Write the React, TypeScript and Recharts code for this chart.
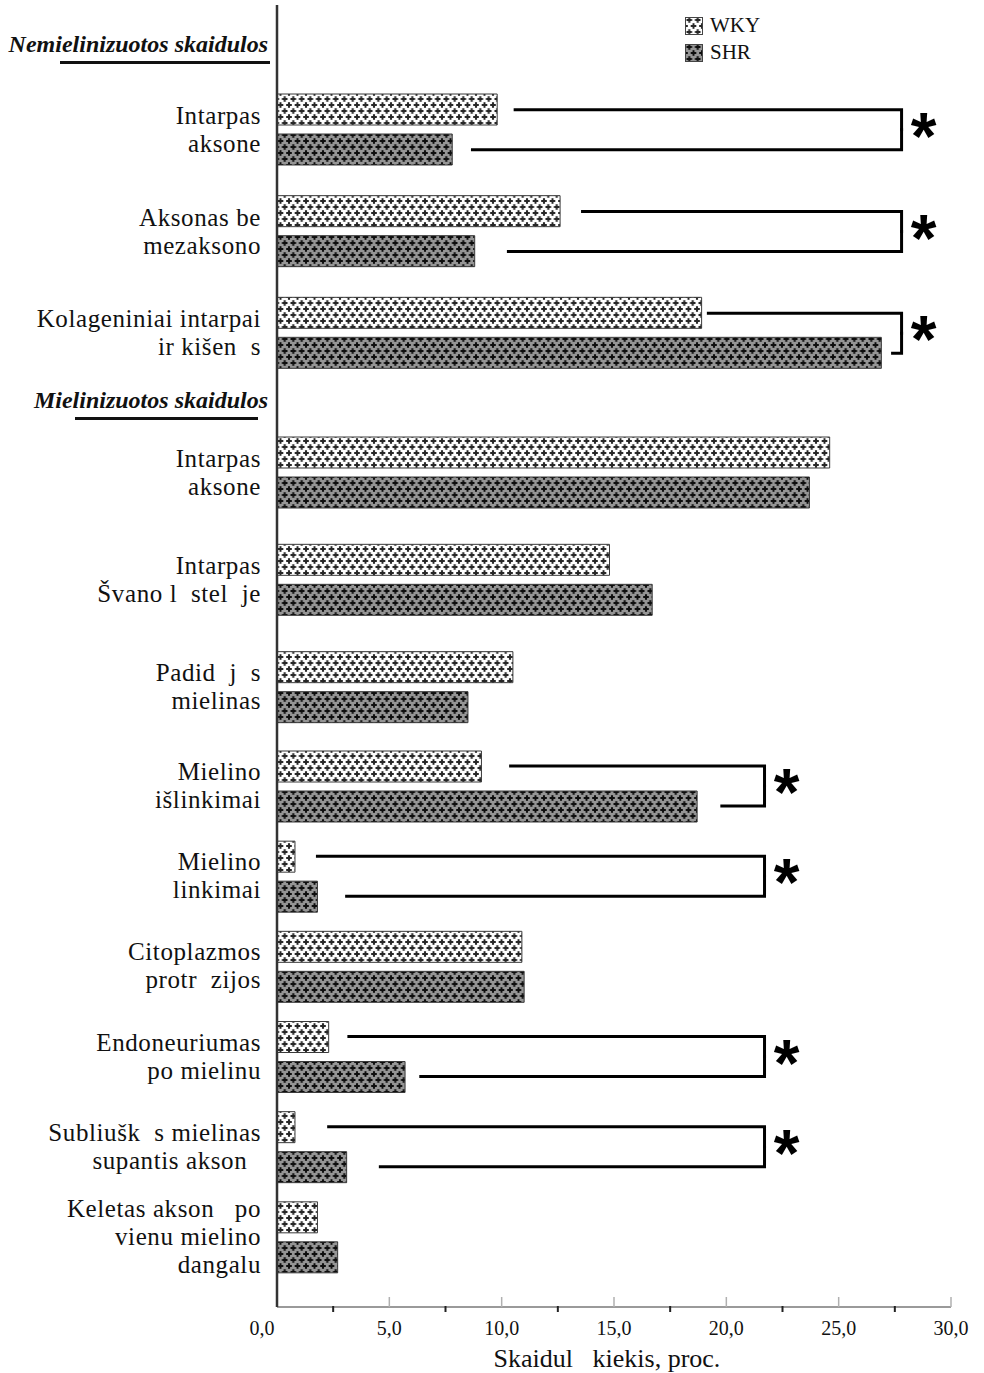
import React from 'react';
import { BarChart, Bar, XAxis, YAxis, ReferenceLine, Legend } from 'recharts';

const SERIF = "'Liberation Serif', 'Times New Roman', serif";

// Nemielinizuotos skaidulos (unmyelinated fibres)
const unmyelinatedLabels = ['Intarpas\naksone', 'Aksonas be\nmezaksono', 'Kolageniniai intarpai\nir kišen  s'];
const unmyelinatedWKY = [9.8, 12.6, 18.9];
const unmyelinatedSHR = [7.8, 8.8, 26.9];

// Mielinizuotos skaidulos (myelinated fibres)
const myelinatedLabels = [
  'Intarpas\naksone',
  'Intarpas\nŠvano l  stel  je',
  'Padid  j  s\nmielinas',
  'Mielino\nišlinkimai',
  'Mielino\nlinkimai',
  'Citoplazmos\nprotr  zijos',
  'Endoneuriumas\npo mielinu',
  'Subliušk  s mielinas\nsupantis akson  ',
  'Keletas akson   po\nvienu mielino\ndangalu',
];
const myelinatedWKY = [24.6, 14.8, 10.5, 9.1, 0.8, 10.9, 2.3, 0.8, 1.8];
const myelinatedSHR = [23.7, 16.7, 8.5, 18.7, 1.8, 11.0, 5.7, 3.1, 2.7];

// Significance brackets: row index, where each arm starts, where the bracket closes
const unmyelinatedSigRows = [0, 1, 2];
const unmyelinatedSigWkyFrom = [10.6, 13.6, 19.2];
const unmyelinatedSigShrFrom = [8.7, 10.3, 27.4];
const unmyelinatedSigAt = 27.8;

const myelinatedSigRows = [3, 4, 6, 7];
const myelinatedSigWkyFrom = [10.4, 1.8, 3.2, 2.3];
const myelinatedSigShrFrom = [19.8, 3.1, 6.4, 4.6];
const myelinatedSigAt = 21.7;

const xTicks = [0, 2.5, 5, 7.5, 10, 12.5, 15, 17.5, 20, 22.5, 25, 27.5, 30];
const seriesNames = ['WKY', 'SHR'];

type Row = { label: string; wky: number; shr: number };
type Sig = { label: string; wkyFrom: number; shrFrom: number; at: number };

const buildRows = (labels: string[], wky: number[], shr: number[]): Row[] =>
  labels.map((label, i) => ({ label, wky: wky[i], shr: shr[i] }));

const buildSigs = (labels: string[], rows: number[], wkyFrom: number[], shrFrom: number[], at: number): Sig[] =>
  rows.map((r, i) => ({ label: labels[r], wkyFrom: wkyFrom[i], shrFrom: shrFrom[i], at }));

const unmyelinatedRows = buildRows(unmyelinatedLabels, unmyelinatedWKY, unmyelinatedSHR);
const myelinatedRows = buildRows(myelinatedLabels, myelinatedWKY, myelinatedSHR);
const unmyelinatedSigs = buildSigs(unmyelinatedLabels, unmyelinatedSigRows, unmyelinatedSigWkyFrom, unmyelinatedSigShrFrom, unmyelinatedSigAt);
const myelinatedSigs = buildSigs(myelinatedLabels, myelinatedSigRows, myelinatedSigWkyFrom, myelinatedSigShrFrom, myelinatedSigAt);

const BAR_SIZE = 31;
const BAR_GAP = 9;
const ARM_OFFSET = (BAR_SIZE + BAR_GAP) / 2;
const LINE_H = 28;
const CHART_W = 984;
const PAGE_H = 1373;
const AXIS_W = 277;
const RIGHT_M = 33;

const Cross = ({ cx, cy, color }: { cx: number; cy: number; color: string }) => (
  <g fill={color}>
    <rect x={cx - 2.8} y={cy - 1} width={5.6} height={2} />
    <rect x={cx - 1} y={cy - 2.8} width={2} height={5.6} />
  </g>
);

const patternDefs = (prefix: string) => (
  <defs>
    <pattern id={`${prefix}wky`} width={8.5} height={12} patternUnits="userSpaceOnUse">
      <rect width={8.5} height={12} fill="#ffffff" />
      <Cross cx={4.25} cy={3} color="#262626" />
      <Cross cx={0} cy={9} color="#262626" />
      <Cross cx={8.5} cy={9} color="#262626" />
    </pattern>
    <pattern id={`${prefix}shr`} width={8.5} height={12} patternUnits="userSpaceOnUse">
      <rect width={8.5} height={12} fill="#959595" />
      <Cross cx={4.25} cy={3} color="#0d0d0d" />
      <Cross cx={0} cy={9} color="#0d0d0d" />
      <Cross cx={8.5} cy={9} color="#0d0d0d" />
    </pattern>
  </defs>
);

const CategoryTick = ({ x, y, payload }: any) => {
  const lines = String(payload.value).split('\n');
  const first = y - ((lines.length - 1) * LINE_H) / 2 + 8;
  return (
    <text
      x={x}
      y={first}
      textAnchor="end"
      fontFamily={SERIF}
      fontSize={25}
      letterSpacing={0.6}
      fill="#111"
      style={{ whiteSpace: 'pre' }}
    >
      {lines.map((line, i) => (
        <tspan key={i} x={x} y={first + i * LINE_H}>
          {line}
        </tspan>
      ))}
    </text>
  );
};

const ValueTick = ({ x, y, payload }: any) => {
  const v = Number(payload.value);
  const major = v % 5 === 0;
  return (
    <g>
      {major && v > 0 && <line x1={x} x2={x} y1={y - 10} y2={y} stroke="#b0b0b0" strokeWidth={1.5} />}
      {!major && <line x1={x} x2={x} y1={y - 1} y2={y + 5} stroke="#222" strokeWidth={2} />}
      {major && (
        <text x={v === 0 ? x - 15 : x} y={y + 28} textAnchor="middle" fontFamily={SERIF} fontSize={20} fill="#111">
          {v.toFixed(1).replace('.', ',')}
        </text>
      )}
    </g>
  );
};

const sectionHeading = (text: string, baseline: number, ruleFrom: number, ruleTo: number) => (props: any) => {
  const { viewBox } = props;
  const right = viewBox.x + viewBox.width - 9;
  return (
    <g>
      <text
        x={right}
        y={viewBox.y + baseline}
        textAnchor="end"
        fontFamily={SERIF}
        fontSize={24}
        fontWeight="bold"
        fontStyle="italic"
        fill="#111"
      >
        {text}
      </text>
      <rect x={ruleFrom} y={viewBox.y + baseline + 9} width={ruleTo - ruleFrom} height={3} fill="#111" />
    </g>
  );
};

const AxisTitle = (props: any) => {
  const { viewBox } = props;
  return (
    <text
      x={viewBox.x + viewBox.width / 2 - 7}
      y={viewBox.y + 60}
      textAnchor="middle"
      fontFamily={SERIF}
      fontSize={26}
      fill="#111"
      style={{ whiteSpace: 'pre' }}
    >
      Skaidul   kiekis, proc.
    </text>
  );
};

// One arm of a significance bracket; dir -1 = WKY bar (upper), +1 = SHR bar (lower)
const bracketArm = (dir: number, star: boolean) => (props: any) => {
  const { x1, y1, x2 } = props;
  const yArm = y1 + dir * ARM_OFFSET;
  return (
    <g>
      <path
        d={`M${x1},${yArm} H${x2} V${y1}`}
        fill="none"
        stroke="#000"
        strokeWidth={3}
        strokeLinecap="square"
        strokeLinejoin="miter"
      />
      {star && (
        <text
          x={x2 + 22}
          y={y1 + 29}
          textAnchor="middle"
          fontFamily="'Liberation Sans', Arial, sans-serif"
          fontWeight="bold"
          fontSize={66}
          fill="#000"
        >
          *
        </text>
      )}
    </g>
  );
};

const renderBrackets = (sigs: Sig[]) =>
  sigs.flatMap((s) => [
    <ReferenceLine
      key={`w-${s.label}`}
      segment={[
        { x: s.wkyFrom, y: s.label },
        { x: s.at, y: s.label },
      ]}
      ifOverflow="visible"
      shape={bracketArm(-1, true)}
    />,
    <ReferenceLine
      key={`s-${s.label}`}
      segment={[
        { x: s.shrFrom, y: s.label },
        { x: s.at, y: s.label },
      ]}
      ifOverflow="visible"
      shape={bracketArm(1, false)}
    />,
  ]);

const KeyContent = () => (
  <div style={{ fontFamily: SERIF, fontSize: 21, color: '#111' }}>
    {seriesNames.map((name, i) => (
      <div key={name} style={{ display: 'flex', alignItems: 'center', height: 27 }}>
        <svg width={18} height={18} style={{ marginRight: 7 }}>
          {patternDefs(`key${i}`)}
          <rect
            x={0.5}
            y={0.5}
            width={17}
            height={17}
            fill={`url(#key${i}${i === 0 ? 'wky' : 'shr'})`}
            stroke="#444"
            strokeWidth={1}
          />
        </svg>
        <span>{name}</span>
      </div>
    ))}
  </div>
);

const axisLine = { stroke: '#333', strokeWidth: 2.5 };

type PanelProps = {
  id: string;
  rows: Row[];
  top: number;
  height: number;
  padTop: number;
  padBottom: number;
  marginTop?: number;
  heading?: { text: string; baseline: number; from: number; to: number };
  sigs?: Sig[];
  withKey?: boolean;
  withValueAxis?: boolean;
};

// One horizontal bar panel; panels stack and share the same value scale
const Panel = ({ id, rows, top, height, padTop, padBottom, marginTop = 0, heading, sigs = [], withKey, withValueAxis }: PanelProps) => (
  <div style={{ position: 'absolute', left: 0, top }}>
    <BarChart
      width={CHART_W}
      height={height}
      data={rows}
      layout="vertical"
      barGap={BAR_GAP}
      margin={{ top: marginTop, right: RIGHT_M, left: 0, bottom: 0 }}
    >
      {patternDefs(id)}
      {withValueAxis ? (
        <XAxis
          type="number"
          domain={[0, 30]}
          ticks={xTicks}
          interval={0}
          height={66}
          axisLine={{ stroke: '#9a9a9a', strokeWidth: 2 }}
          tickLine={false}
          tickSize={0}
          tickMargin={0}
          tick={<ValueTick />}
          label={{ content: AxisTitle }}
        />
      ) : (
        <XAxis type="number" domain={[0, 30]} hide />
      )}
      <YAxis
        type="category"
        dataKey="label"
        width={AXIS_W}
        axisLine={axisLine}
        tickLine={false}
        tickSize={0}
        tickMargin={16}
        tick={<CategoryTick />}
        interval={0}
        padding={{ top: padTop, bottom: padBottom }}
        label={heading ? { content: sectionHeading(heading.text, heading.baseline, heading.from, heading.to) } : undefined}
      />
      {withKey && (
        <Legend
          layout="vertical"
          align="center"
          verticalAlign="middle"
          wrapperStyle={{ top: 12, left: 685, width: 100, height: 60 }}
          content={<KeyContent />}
        />
      )}
      <Bar dataKey="wky" name="WKY" fill={`url(#${id}wky)`} stroke="#3a3a3a" strokeWidth={1} barSize={BAR_SIZE} isAnimationActive={false} />
      <Bar dataKey="shr" name="SHR" fill={`url(#${id}shr)`} stroke="#3a3a3a" strokeWidth={1} barSize={BAR_SIZE} isAnimationActive={false} />
      {renderBrackets(sigs)}
    </BarChart>
  </div>
);

export default function App() {
  const myelinatedHead = myelinatedRows.slice(0, 3);
  const myelinatedTail = myelinatedRows.slice(3);
  return (
    <div style={{ position: 'absolute', left: 0, top: 0, width: CHART_W, height: PAGE_H, background: '#fff' }}>
      <Panel
        id="p1"
        rows={unmyelinatedRows}
        top={0}
        height={384}
        marginTop={5}
        padTop={74}
        padBottom={0}
        heading={{ text: 'Nemielinizuotos skaidulos', baseline: 47, from: 60, to: 270 }}
        sigs={unmyelinatedSigs}
        withKey
      />
      <Panel
        id="p2"
        rows={myelinatedHead}
        top={384}
        height={357}
        padTop={35}
        padBottom={0}
        heading={{ text: 'Mielinizuotos skaidulos', baseline: 24, from: 75, to: 258 }}
      />
      <Panel
        id="p3"
        rows={myelinatedTail}
        top={741}
        height={PAGE_H - 741}
        padTop={0}
        padBottom={25}
        sigs={myelinatedSigs}
        withValueAxis
      />
    </div>
  );
}
